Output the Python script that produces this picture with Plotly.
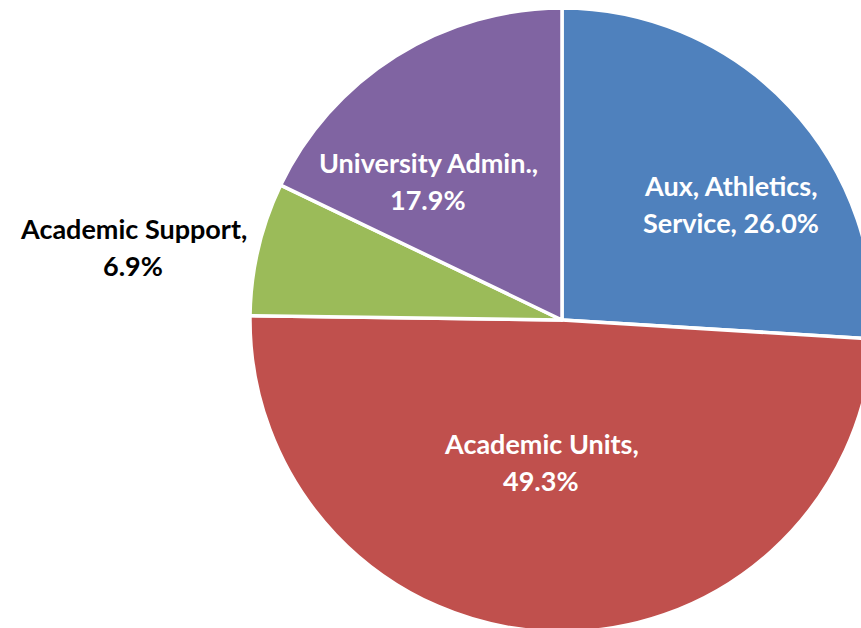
import plotly.graph_objects as go

# Budget share by area (percent), clockwise from 12 o'clock
categories = ["Aux, Athletics, Service", "Academic Units", "Academic Support", "University Admin."]
shares = [26.0, 49.3, 6.9, 17.9]
colors = ["#4F81BD", "#C0504D", "#9BBB59", "#8064A2"]

# Label layout: how each name is wrapped, text colour, and label centre in pixels
label_lines = [["Aux, Athletics,", "Service, {:.1f}%"],
               ["Academic Units,", "{:.1f}%"],
               ["Academic Support,", "{:.1f}%"],
               ["University Admin.,", "{:.1f}%"]]
label_colors = ["white", "white", "black", "white"]
label_px = [(731, 204), (541, 462), (133, 247), (428, 181)]

W, H = 1124, 632
TOP = 8
LINE_GAP = 37
FONT = "Lato, 'Open Sans', sans-serif"


def to_paper(px, py):
    return px / W, (H - py) / (H - TOP)


fig = go.Figure(go.Pie(
    labels=categories,
    values=shares,
    sort=False,
    direction="clockwise",
    rotation=0,
    marker=dict(colors=colors, line=dict(color="white", width=3.5)),
    textinfo="none",
    hoverinfo="label+percent",
    showlegend=False,
    domain=dict(x=[0, 1], y=[0, 1]),
))

annotations = []
for lines, val, col, (cx, cy) in zip(label_lines, shares, label_colors, label_px):
    n = len(lines)
    for i, line in enumerate(lines):
        py = cy + (i - (n - 1) / 2) * LINE_GAP
        x, y = to_paper(cx, py)
        annotations.append(dict(
            x=x, y=y, xref="paper", yref="paper",
            text="<b>" + line.format(val) + "</b>",
            showarrow=False, xanchor="center", yanchor="middle",
            font=dict(family=FONT, size=27, color=col),
        ))

fig.update_layout(
    width=W, height=H,
    margin=dict(l=0, r=0, t=TOP, b=0),
    paper_bgcolor="white",
    plot_bgcolor="white",
    annotations=annotations,
)

fig.write_html(
    "out.html",
    post_script=(
        "document.documentElement.style.overflow='hidden';"
        "document.body.style.overflow='hidden';"
        "document.body.style.margin='0';"
    ),
)
